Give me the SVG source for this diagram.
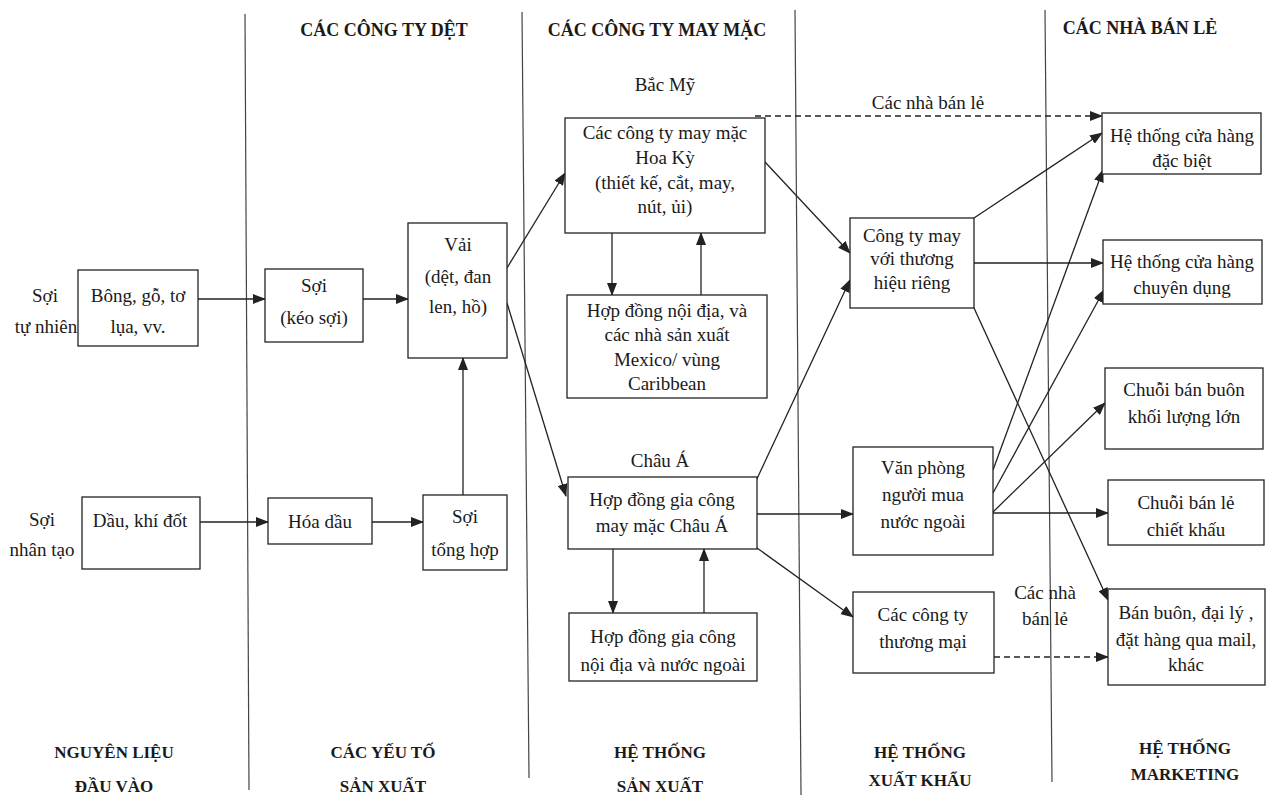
<svg xmlns="http://www.w3.org/2000/svg" width="1270" height="800" viewBox="0 0 1270 800">
<style>
text{font-family:"Liberation Serif","Times New Roman",serif;fill:#1a1a1a;text-anchor:middle}
.t{font-size:19px}
.h{font-size:18px;font-weight:bold}
.b{font-size:17px;font-weight:bold}
.box{fill:#fff;stroke:#222;stroke-width:1.3}
.lane{stroke:#444;stroke-width:1.2;fill:none}
.c{stroke:#222;stroke-width:1.3;fill:none;marker-end:url(#ah)}
.d{stroke:#222;stroke-width:1.3;fill:none;stroke-dasharray:6 4;marker-end:url(#ah)}
</style>
<defs>
<marker id="ah" markerUnits="userSpaceOnUse" markerWidth="13" markerHeight="10" refX="12" refY="5" orient="auto">
<path d="M0,0 L13,5 L0,10 Z" fill="#222"/>
</marker>
</defs>
<rect width="1270" height="800" fill="#fff"/>
<g id="lanes">
<line class="lane" x1="245" y1="14" x2="249" y2="790"/>
<line class="lane" x1="522" y1="12" x2="529" y2="778"/>
<line class="lane" x1="795" y1="10" x2="801" y2="795"/>
<line class="lane" x1="1045" y1="10" x2="1052" y2="782"/>
</g>
<g id="headers">
<text class="h" x="384" y="36">CÁC CÔNG TY DỆT</text>
<text class="h" x="657" y="36">CÁC CÔNG TY MAY MẶC</text>
<text class="h" x="1140" y="34">CÁC NHÀ BÁN LẺ</text>
<text class="b" x="114" y="758">NGUYÊN LIỆU</text>
<text class="b" x="114" y="792">ĐẦU VÀO</text>
<text class="b" x="383" y="758">CÁC YẾU TỐ</text>
<text class="b" x="383" y="792">SẢN XUẤT</text>
<text class="b" x="660" y="758">HỆ THỐNG</text>
<text class="b" x="660" y="792">SẢN XUẤT</text>
<text class="b" x="920" y="758">HỆ THỐNG</text>
<text class="b" x="920" y="786">XUẤT KHẨU</text>
<text class="b" x="1185" y="754">HỆ THỐNG</text>
<text class="b" x="1185" y="780">MARKETING</text>
</g>
<g id="labels">
<text class="t" x="45" y="302">Sợi</text>
<text class="t" x="46" y="333">tự nhiên</text>
<text class="t" x="42" y="526">Sợi</text>
<text class="t" x="42" y="556">nhân tạo</text>
<text class="t" x="665" y="91">Bắc Mỹ</text>
<text class="t" x="660" y="467">Châu Á</text>
<text class="t" x="928" y="109">Các nhà bán lẻ</text>
<text class="t" x="1045" y="599">Các nhà</text>
<text class="t" x="1045" y="625">bán lẻ</text>
</g>
<g id="connectors">
<line class="c" x1="198" y1="299" x2="265" y2="299"/>
<line class="c" x1="363" y1="299" x2="408" y2="299"/>
<line class="c" x1="200" y1="522" x2="268" y2="522"/>
<line class="c" x1="372" y1="522" x2="423" y2="522"/>
<line class="c" x1="463" y1="495" x2="463" y2="358"/>
<line class="c" x1="507" y1="268" x2="565" y2="173"/>
<line class="c" x1="507" y1="303" x2="566" y2="496"/>
<line class="c" x1="612" y1="233" x2="612" y2="295"/>
<line class="c" x1="701" y1="295" x2="701" y2="233"/>
<line class="c" x1="613" y1="549" x2="613" y2="613"/>
<line class="c" x1="704" y1="613" x2="704" y2="549"/>
<line class="c" x1="765" y1="162" x2="850" y2="253"/>
<line class="c" x1="755" y1="483" x2="850" y2="280"/>
<line class="c" x1="757" y1="514" x2="853" y2="514"/>
<line class="c" x1="757" y1="548" x2="853" y2="617"/>
<line class="d" x1="755" y1="116" x2="1102" y2="116"/>
<line class="c" x1="974" y1="218" x2="1102" y2="133"/>
<line class="c" x1="974" y1="263" x2="1103" y2="263"/>
<line class="c" x1="974" y1="308" x2="1108" y2="600"/>
<line class="c" x1="993" y1="470" x2="1103" y2="170"/>
<line class="c" x1="993" y1="493" x2="1104" y2="290"/>
<line class="c" x1="993" y1="512" x2="1105" y2="403"/>
<line class="c" x1="993" y1="513" x2="1108" y2="513"/>
<line class="d" x1="994" y1="657" x2="1108" y2="657"/>
</g>
<g id="n-bong"><rect class="box" x="78" y="270" width="120" height="76"/><text class="t" x="138" y="302">Bông, gỗ, tơ</text><text class="t" x="138" y="333">lụa, vv.</text></g>
<g id="n-soi"><rect class="box" x="265" y="269" width="98" height="73"/><text class="t" x="314" y="292">Sợi</text><text class="t" x="314" y="324">(kéo sợi)</text></g>
<g id="n-vai"><rect class="box" x="408" y="223" width="99" height="135"/><text class="t" x="458" y="251">Vải</text><text class="t" x="458" y="283">(dệt, đan</text><text class="t" x="458" y="313">len, hồ)</text></g>
<g id="n-dau"><rect class="box" x="82" y="497" width="118" height="72"/><text class="t" x="140" y="527">Dầu, khí đốt</text></g>
<g id="n-hoadau"><rect class="box" x="268" y="498" width="104" height="46"/><text class="t" x="320" y="528">Hóa dầu</text></g>
<g id="n-soith"><rect class="box" x="423" y="495" width="84" height="75"/><text class="t" x="465" y="523">Sợi</text><text class="t" x="465" y="556">tổng hợp</text></g>
<g id="n-hoaky"><rect class="box" x="565" y="118" width="200" height="115"/><text class="t" x="665" y="139">Các công ty may mặc</text><text class="t" x="665" y="164">Hoa Kỳ</text><text class="t" x="665" y="189">(thiết kế, cắt, may,</text><text class="t" x="665" y="213">nút, ủi)</text></g>
<g id="n-noidia"><rect class="box" x="567" y="295" width="200" height="103"/><text class="t" x="667" y="317">Hợp đồng nội địa, và</text><text class="t" x="667" y="341">các nhà sản xuất</text><text class="t" x="667" y="366">Mexico/ vùng</text><text class="t" x="667" y="390">Caribbean</text></g>
<g id="n-chaua"><rect class="box" x="568" y="477" width="189" height="72"/><text class="t" x="662" y="506">Hợp đồng gia công</text><text class="t" x="662" y="532">may mặc Châu Á</text></g>
<g id="n-hdgc"><rect class="box" x="569" y="613" width="188" height="68"/><text class="t" x="663" y="643">Hợp đồng gia công</text><text class="t" x="663" y="671">nội địa và nước ngoài</text></g>
<g id="n-ctmay"><rect class="box" x="850" y="218" width="124" height="90"/><text class="t" x="912" y="242">Công ty may</text><text class="t" x="912" y="265">với thương</text><text class="t" x="912" y="289">hiệu riêng</text></g>
<g id="n-vanphong"><rect class="box" x="853" y="447" width="140" height="108"/><text class="t" x="923" y="474">Văn phòng</text><text class="t" x="923" y="501">người mua</text><text class="t" x="923" y="528">nước ngoài</text></g>
<g id="n-thuongmai"><rect class="box" x="853" y="592" width="141" height="81"/><text class="t" x="923" y="621">Các công ty</text><text class="t" x="923" y="648">thương mại</text></g>
<g id="n-dacbiet"><rect class="box" x="1102" y="113" width="159" height="61"/><text class="t" x="1182" y="142">Hệ thống cửa hàng</text><text class="t" x="1182" y="167">đặc biệt</text></g>
<g id="n-chuyendung"><rect class="box" x="1103" y="240" width="159" height="64"/><text class="t" x="1182" y="268">Hệ thống cửa hàng</text><text class="t" x="1182" y="294">chuyên dụng</text></g>
<g id="n-khoiluong"><rect class="box" x="1105" y="368" width="158" height="81"/><text class="t" x="1184" y="396">Chuỗi bán buôn</text><text class="t" x="1184" y="423">khối lượng lớn</text></g>
<g id="n-chietkhau"><rect class="box" x="1108" y="480" width="156" height="65"/><text class="t" x="1186" y="509">Chuỗi bán lẻ</text><text class="t" x="1186" y="536">chiết khấu</text></g>
<g id="n-banbuon"><rect class="box" x="1108" y="589" width="157" height="96"/><text class="t" x="1186" y="619">Bán buôn, đại lý ,</text><text class="t" x="1186" y="646">đặt hàng qua mail,</text><text class="t" x="1186" y="671">khác</text></g>
</svg>
